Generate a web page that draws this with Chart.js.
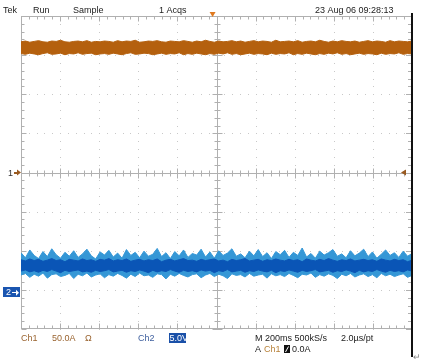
<!DOCTYPE html>
<html><head><meta charset="utf-8">
<script src="https://cdn.jsdelivr.net/npm/chart.js@4/dist/chart.umd.min.js"></script>
<style>html,body{margin:0;padding:0;background:#fff;}canvas{display:block;}</style>
</head><body>
<canvas id="c" width="428" height="362"></canvas>
<script>
// Screen span: 10 divisions x 200 ms/div
const timeSpanMs = 2000;
// Values in graticule divisions (8 vertical divisions, -4..4)
const ch1Upper = [3.34,3.36,3.33,3.35,3.37,3.34,3.33,3.36,3.35,3.38,3.34,3.33,3.35,3.36,3.34,3.37,3.33,3.35,3.34,3.36,
3.35,3.33,3.37,3.34,3.36,3.35,3.38,3.33,3.34,3.36,3.35,3.37,3.34,3.33,3.36,3.35,3.34,3.37,3.35,3.33,
3.36,3.34,3.38,3.35,3.33,3.36,3.34,3.35,3.37,3.34,3.36,3.33,3.35,3.37,3.34,3.36,3.35,3.33,3.38,3.34,
3.35,3.36,3.34,3.37,3.33,3.35,3.36,3.34,3.38,3.35,3.33,3.36,3.34,3.37,3.35,3.34,3.36,3.33,3.35,3.37,
3.34,3.36,3.35,3.33,3.37,3.34,3.36,3.35,3.34,3.36];
const ch1Lower = [3.04,3.02,3.05,3.03,3.01,3.04,3.06,3.02,3.03,3.05,3.01,3.04,3.03,3.06,3.02,3.04,3.05,3.01,3.03,3.04,
3.02,3.05,3.03,3.01,3.04,3.06,3.02,3.03,3.05,3.04,3.01,3.03,3.05,3.02,3.04,3.03,3.06,3.01,3.04,3.02,
3.05,3.03,3.01,3.04,3.02,3.05,3.03,3.06,3.02,3.04,3.01,3.03,3.05,3.02,3.04,3.03,3.01,3.05,3.02,3.04,
3.03,3.06,3.01,3.04,3.02,3.05,3.03,3.01,3.04,3.02,3.05,3.03,3.06,3.02,3.04,3.01,3.03,3.05,3.02,3.04,
3.03,3.01,3.05,3.02,3.04,3.03,3.06,3.02,3.04,3.03];
const ch2SpikeTop = [-2.05,-2.18,-1.98,-2.12,-2.20,-2.02,-2.15,-1.95,-2.10,-2.19,-2.04,-2.14,-2.00,-2.17,-2.08,-1.96,-2.13,-2.21,-2.03,-2.11,
-1.99,-2.16,-2.06,-2.19,-1.97,-2.12,-2.04,-2.18,-2.01,-2.14,-2.09,-1.94,-2.15,-2.05,-2.20,-2.02,-2.13,-1.98,-2.17,-2.07,
-2.11,-1.96,-2.16,-2.03,-2.19,-2.00,-2.12,-2.06,-1.95,-2.14,-2.08,-2.18,-2.01,-2.13,-1.97,-2.15,-2.05,-2.20,-2.02,-2.10,
-1.99,-2.17,-2.04,-2.12,-1.93,-2.16,-2.07,-2.19,-2.01,-2.11,-2.05,-1.97,-2.14,-2.08,-2.18,-2.00,-2.13,-2.06,-1.96,-2.15,
-2.03,-2.19,-2.09,-1.98,-2.12,-2.05,-2.17,-2.01,-2.14,-2.07];
const ch2CoreTop = [-2.23,-2.26,-2.21,-2.25,-2.22,-2.27,-2.24,-2.20,-2.25,-2.23,-2.28,-2.22,-2.24,-2.26,-2.21,-2.25,-2.23,-2.27,-2.22,-2.24,
-2.20,-2.26,-2.23,-2.25,-2.21,-2.27,-2.24,-2.22,-2.26,-2.23,-2.25,-2.21,-2.28,-2.24,-2.22,-2.26,-2.23,-2.20,-2.25,-2.24,
-2.27,-2.22,-2.25,-2.23,-2.21,-2.26,-2.24,-2.28,-2.22,-2.25,-2.23,-2.20,-2.26,-2.24,-2.22,-2.27,-2.23,-2.25,-2.21,-2.24,
-2.26,-2.22,-2.25,-2.23,-2.28,-2.21,-2.24,-2.26,-2.22,-2.25,-2.20,-2.24,-2.27,-2.23,-2.25,-2.21,-2.26,-2.24,-2.22,-2.25,
-2.23,-2.27,-2.21,-2.24,-2.26,-2.22,-2.25,-2.23,-2.28,-2.24];
const ch2CoreBottom = [-2.52,-2.49,-2.54,-2.51,-2.55,-2.50,-2.53,-2.48,-2.52,-2.56,-2.50,-2.53,-2.51,-2.49,-2.54,-2.52,-2.55,-2.50,-2.53,-2.51,
-2.48,-2.54,-2.52,-2.50,-2.55,-2.51,-2.53,-2.49,-2.52,-2.56,-2.50,-2.54,-2.51,-2.53,-2.48,-2.52,-2.55,-2.50,-2.53,-2.51,
-2.54,-2.49,-2.52,-2.50,-2.56,-2.51,-2.53,-2.48,-2.54,-2.52,-2.50,-2.55,-2.51,-2.53,-2.49,-2.52,-2.54,-2.50,-2.56,-2.51,
-2.53,-2.49,-2.52,-2.55,-2.50,-2.53,-2.51,-2.48,-2.54,-2.52,-2.50,-2.55,-2.51,-2.53,-2.49,-2.52,-2.56,-2.50,-2.54,-2.51,
-2.53,-2.48,-2.52,-2.55,-2.50,-2.53,-2.51,-2.54,-2.49,-2.52];
const ch2SpikeBottom = [-2.62,-2.58,-2.68,-2.60,-2.65,-2.57,-2.70,-2.61,-2.59,-2.66,-2.63,-2.58,-2.71,-2.60,-2.64,-2.57,-2.67,-2.62,-2.59,-2.69,
-2.61,-2.65,-2.58,-2.63,-2.70,-2.60,-2.66,-2.57,-2.64,-2.62,-2.68,-2.59,-2.61,-2.72,-2.60,-2.65,-2.58,-2.63,-2.67,-2.61,
-2.59,-2.69,-2.62,-2.58,-2.66,-2.60,-2.64,-2.71,-2.59,-2.63,-2.61,-2.67,-2.58,-2.65,-2.62,-2.60,-2.70,-2.59,-2.64,-2.61,
-2.66,-2.58,-2.63,-2.69,-2.60,-2.62,-2.57,-2.68,-2.61,-2.65,-2.59,-2.63,-2.71,-2.60,-2.64,-2.58,-2.67,-2.62,-2.59,-2.66,
-2.61,-2.69,-2.58,-2.64,-2.60,-2.66,-2.62,-2.59,-2.68,-2.63];
const ch1GroundDiv = 0;
const ch2GroundDiv = -3.06;
const triggerTimeMs = 980;
const headerLabels = ["Tek", "Run", "Sample", "1 Acqs", "23 Aug 06 09:28:13"];
const footerCh1 = ["Ch1", "50.0A", "\u03A9"];
const footerCh2 = ["Ch2", "5.0V"];
const footerTime = ["M 200ms 500kS/s", "2.0\u00B5s/pt"];
const footerTrig = ["A", "Ch1", "0.0A"];

const ORANGE = '#b4600e';
const BLUE_LIGHT = '#3597d6';
const BLUE_DARK = '#0a55b6';

function toPts(arr){ return arr.map((v,i)=>({x: i*timeSpanMs/(arr.length-1), y: v})); }
function ds(arr, color, fill, order){ return {data: toPts(arr), borderColor: color, backgroundColor: color, borderWidth: 1, pointRadius: 0, tension: 0, fill: fill, order: order}; }

const graticule = {
  id: 'graticule',
  beforeDatasetsDraw(chart){
    const ctx = chart.ctx, xs = chart.scales.x, ys = chart.scales.y;
    const L = xs.getPixelForValue(0), R = xs.getPixelForValue(2000);
    const T = ys.getPixelForValue(4), B = ys.getPixelForValue(-4);
    const cx = xs.getPixelForValue(1000), cy = ys.getPixelForValue(0);
    ctx.save();
    ctx.fillStyle = '#c8c8c8';
    for (let i=1;i<10;i++){ if(i===5) continue; const x=Math.round(xs.getPixelForValue(i*200));
      for (let j=0;j<=40;j++){ const y=Math.round(ys.getPixelForValue(-4+j*0.2)); ctx.fillRect(x,y,1,1);} }
    for (let k=-3;k<=3;k++){ if(k===0) continue; const y=Math.round(ys.getPixelForValue(k));
      for (let j=0;j<=50;j++){ const x=Math.round(xs.getPixelForValue(j*40)); ctx.fillRect(x,y,1,1);} }
    ctx.strokeStyle = '#b0b0b0'; ctx.lineWidth = 1;
    const line=(x1,y1,x2,y2)=>{ctx.beginPath();ctx.moveTo(x1,y1);ctx.lineTo(x2,y2);ctx.stroke();};
    const rx=Math.round(cx)+0.5, ry=Math.round(cy)+0.5;
    line(L,ry,R,ry); line(rx,T,rx,B);
    const lx=Math.round(L)+0.5, tx=Math.round(T)+0.5, bx=Math.round(B)-0.5;
    line(lx,T,lx,B); line(L,tx,R,tx); line(L,bx,R,bx);
    for (let j=0;j<=50;j++){ const x=Math.round(xs.getPixelForValue(j*40))+0.5; const len = j%5===0?5:3;
      line(x,ry-len,x,ry+len); line(x,tx,x,tx+len); line(x,bx,x,bx-len); }
    for (let j=0;j<=40;j++){ const y=Math.round(ys.getPixelForValue(-4+j*0.2))+0.5; const len = j%5===0?5:3;
      line(rx-len,y,rx+len,y); line(lx,y,lx+len,y); line(R-1,y,R-1-len,y); }
    ctx.restore();
  },
  afterDraw(chart){
    const ctx = chart.ctx, xs = chart.scales.x, ys = chart.scales.y;
    const R = xs.getPixelForValue(2000);
    ctx.save();
    ctx.fillStyle = '#111'; ctx.fillRect(Math.round(R)-1, 13, 2, 344);
    const tpx = xs.getPixelForValue(triggerTimeMs), T = ys.getPixelForValue(4);
    ctx.fillStyle = '#e07a20';
    ctx.beginPath(); ctx.moveTo(tpx-3,T-4); ctx.lineTo(tpx+3,T-4); ctx.lineTo(tpx,T+1); ctx.closePath(); ctx.fill();
    const c1y = ys.getPixelForValue(ch1GroundDiv);
    ctx.fillStyle = '#9a5a20';
    ctx.beginPath(); ctx.moveTo(R-11,c1y); ctx.lineTo(R-6,c1y-3); ctx.lineTo(R-6,c1y+3); ctx.closePath(); ctx.fill();
    ctx.font = '9px "Liberation Sans", Arial, sans-serif';
    ctx.textBaseline = 'middle';
    ctx.fillStyle = '#333'; ctx.fillText('1', 8, c1y+1);
    ctx.fillStyle = '#9a5a20';
    ctx.fillRect(14, Math.round(c1y)-1, 4, 2);
    ctx.beginPath(); ctx.moveTo(21,c1y); ctx.lineTo(17,c1y-3); ctx.lineTo(17,c1y+3); ctx.closePath(); ctx.fill();
    const c2y = ys.getPixelForValue(ch2GroundDiv);
    ctx.fillStyle = '#1a55b0'; ctx.fillRect(3, Math.round(c2y)-5, 17, 10);
    ctx.fillStyle = '#fff'; ctx.fillText('2', 6, c2y+0.5);
    ctx.fillRect(12, Math.round(c2y), 5, 1);
    ctx.beginPath(); ctx.moveTo(19,c2y+0.5); ctx.lineTo(16,c2y-2.5); ctx.lineTo(16,c2y+3.5); ctx.closePath(); ctx.fill();
    ctx.textBaseline = 'alphabetic';
    ctx.fillStyle = '#222';
    const hx = [3, 33, 73, 159, 315];
    headerLabels.forEach((t,i)=>ctx.fillText(t, hx[i], 13));
    ctx.fillStyle = '#9a6430';
    const f1x = [21, 52, 85];
    footerCh1.forEach((t,i)=>ctx.fillText(t, f1x[i], 341));
    ctx.fillStyle = '#3e5f9e'; ctx.fillText(footerCh2[0], 138, 341);
    ctx.fillStyle = '#1a50a8'; ctx.fillRect(169, 333, 17, 10);
    ctx.fillStyle = '#fff'; ctx.fillText(footerCh2[1], 169.5, 341);
    ctx.fillStyle = '#222';
    ctx.fillText(footerTime[0], 255, 341); ctx.fillText(footerTime[1], 341, 341);
    ctx.fillText(footerTrig[0], 255, 352);
    ctx.fillStyle = '#b8823a'; ctx.fillText(footerTrig[1], 264, 352);
    ctx.fillStyle = '#111'; ctx.fillRect(284, 345, 6, 8);
    ctx.strokeStyle = '#fff'; ctx.lineWidth = 1;
    ctx.beginPath(); ctx.moveTo(285.5,352); ctx.lineTo(288.5,346.5); ctx.stroke();
    ctx.fillStyle = '#222'; ctx.fillText(footerTrig[2], 292, 352);
    ctx.fillStyle = '#888'; ctx.fillText('\u21B5', 413, 360);
    ctx.restore();
  }
};

new Chart(document.getElementById('c'), {
  type: 'line',
  data: { datasets: [
    ds(ch1Upper, ORANGE, false, 0),
    ds(ch1Lower, ORANGE, '-1', 0),
    ds(ch2SpikeTop, BLUE_LIGHT, false, 2),
    ds(ch2SpikeBottom, BLUE_LIGHT, '-1', 2),
    ds(ch2CoreTop, BLUE_DARK, false, 1),
    ds(ch2CoreBottom, BLUE_DARK, '-1', 1)
  ]},
  options: {
    responsive: false, animation: false, devicePixelRatio: 1,
    layout: { padding: { left: 21, top: 16, right: 16, bottom: 33 } },
    scales: {
      x: { type: 'linear', min: 0, max: timeSpanMs, display: false },
      y: { type: 'linear', min: -4, max: 4, display: false }
    },
    plugins: { legend: { display: false }, tooltip: { enabled: false } }
  },
  plugins: [graticule]
});
</script>
</body></html>
